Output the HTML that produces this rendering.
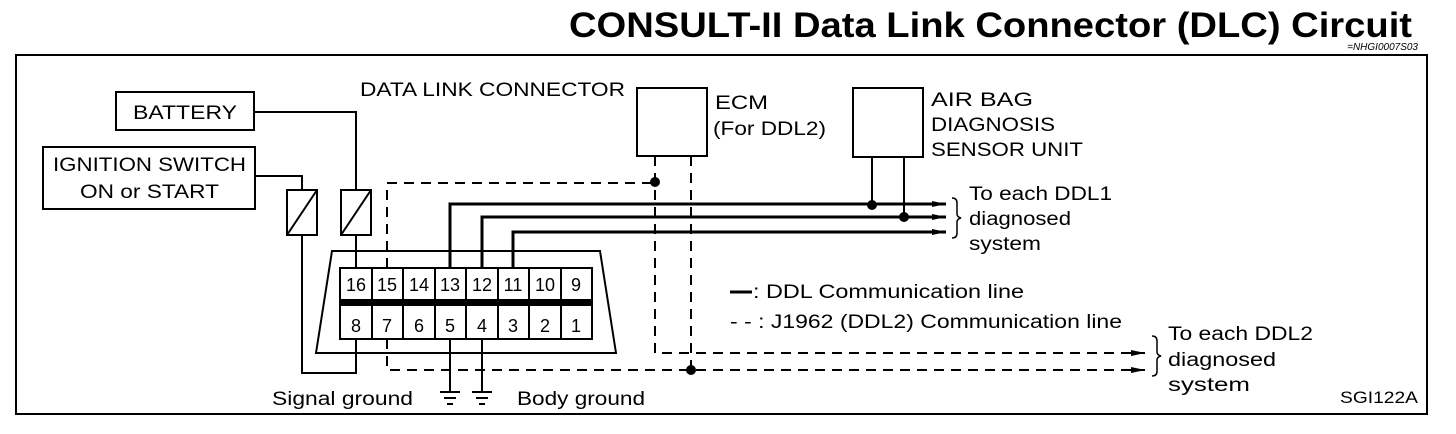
<!DOCTYPE html>
<html><head><meta charset="utf-8"><style>
html,body{margin:0;padding:0;background:#fff;}
svg{display:block;}
text{font-family:"Liberation Sans",Arial,sans-serif;fill:#000;}
</style></head><body>
<svg width="1456" height="434" viewBox="0 0 1456 434" xmlns="http://www.w3.org/2000/svg">
<defs>
<marker id="ar" markerWidth="14" markerHeight="8" refX="14" refY="4" orient="auto" markerUnits="userSpaceOnUse">
<path d="M0,1 L14,4 L0,7 Z" fill="#000"/></marker>
</defs>
<text x="1412" y="37" font-size="35" font-weight="bold" text-anchor="end" textLength="843" lengthAdjust="spacingAndGlyphs">CONSULT-II Data Link Connector (DLC) Circuit</text>
<text x="1418" y="50" font-size="10" font-style="italic" text-anchor="end">=NHGI0007S03</text>
<rect x="16" y="55" width="1411" height="359" fill="none" stroke="#000" stroke-width="2"/>

<g font-size="19">
<text x="133" y="119" textLength="104" lengthAdjust="spacingAndGlyphs">BATTERY</text>
<text x="53" y="171" textLength="193" lengthAdjust="spacingAndGlyphs">IGNITION SWITCH</text>
<text x="80" y="198" textLength="139" lengthAdjust="spacingAndGlyphs">ON or START</text>
<text x="360" y="96" textLength="265" lengthAdjust="spacingAndGlyphs">DATA LINK CONNECTOR</text>
<text x="715" y="109" textLength="53" lengthAdjust="spacingAndGlyphs">ECM</text>
<text x="713" y="135" textLength="113" lengthAdjust="spacingAndGlyphs">(For DDL2)</text>
<text x="931" y="106" textLength="102" lengthAdjust="spacingAndGlyphs">AIR BAG</text>
<text x="931" y="131" textLength="124" lengthAdjust="spacingAndGlyphs">DIAGNOSIS</text>
<text x="931" y="156" textLength="152" lengthAdjust="spacingAndGlyphs">SENSOR UNIT</text>
<text x="969" y="200" textLength="143" lengthAdjust="spacingAndGlyphs">To each DDL1</text>
<text x="969" y="225" textLength="102" lengthAdjust="spacingAndGlyphs">diagnosed</text>
<text x="969" y="250" textLength="72" lengthAdjust="spacingAndGlyphs">system</text>
<text x="1168" y="340" textLength="145" lengthAdjust="spacingAndGlyphs">To each DDL2</text>
<text x="1168" y="366" textLength="108" lengthAdjust="spacingAndGlyphs">diagnosed</text>
<text x="1168" y="391" textLength="82" lengthAdjust="spacingAndGlyphs">system</text>
<text x="753" y="298" textLength="271" lengthAdjust="spacingAndGlyphs">: DDL Communication line</text>
<text x="730" y="328" textLength="392" lengthAdjust="spacingAndGlyphs">- - : J1962 (DDL2) Communication line</text>
<text x="272" y="405" textLength="141" lengthAdjust="spacingAndGlyphs">Signal ground</text>
<text x="517" y="405" textLength="128" lengthAdjust="spacingAndGlyphs">Body ground</text>
<text x="1340" y="403" textLength="78" lengthAdjust="spacingAndGlyphs" font-size="17">SGI122A</text>
</g>

<rect x="116" y="92" width="138" height="38" fill="none" stroke="#000" stroke-width="2"/>
<rect x="43" y="147" width="212" height="62" fill="none" stroke="#000" stroke-width="2"/>
<rect x="637" y="88" width="70" height="68" fill="none" stroke="#000" stroke-width="2"/>
<rect x="853" y="88" width="70" height="69" fill="none" stroke="#000" stroke-width="2"/>

<g fill="none" stroke="#000" stroke-width="2">
<polyline points="254,112 356,112 356,190"/>
<polyline points="255,176 302,176 302,190"/>
<rect x="287" y="190" width="30" height="45"/>
<line x1="287" y1="235" x2="317" y2="190"/>
<rect x="341" y="190" width="30" height="45"/>
<line x1="341" y1="235" x2="371" y2="190"/>
<line x1="356" y1="235" x2="356" y2="268"/>
<polyline points="302,235 302,373 356,373 356,339"/>
<polygon points="332,251 600,251 616,353 316,353"/>
<rect x="340" y="268" width="252" height="71"/>
</g>
<rect x="340" y="299" width="252" height="7" fill="#000"/>
<g stroke="#000" stroke-width="2">
<line x1="372" y1="268" x2="372" y2="339"/><line x1="403" y1="268" x2="403" y2="339"/>
<line x1="435" y1="268" x2="435" y2="339"/><line x1="466" y1="268" x2="466" y2="339"/>
<line x1="498" y1="268" x2="498" y2="339"/><line x1="529" y1="268" x2="529" y2="339"/>
<line x1="561" y1="268" x2="561" y2="339"/>
</g>
<g font-size="18" text-anchor="middle">
<text x="356" y="291">16</text><text x="387" y="291">15</text><text x="419" y="291">14</text><text x="450" y="291">13</text>
<text x="482" y="291">12</text><text x="513" y="291">11</text><text x="545" y="291">10</text><text x="576" y="291">9</text>
<text x="356" y="332">8</text><text x="387" y="332">7</text><text x="419" y="332">6</text><text x="450" y="332">5</text>
<text x="482" y="332">4</text><text x="513" y="332">3</text><text x="545" y="332">2</text><text x="576" y="332">1</text>
</g>

<g fill="none" stroke="#000" stroke-width="3">
<polyline points="450,268 450,204 946,204" marker-end="url(#ar)"/>
<polyline points="482,268 482,217 946,217" marker-end="url(#ar)"/>
<polyline points="513,268 513,232 946,232" marker-end="url(#ar)"/>
</g>
<g stroke="#000" stroke-width="2">
<line x1="872" y1="157" x2="872" y2="205"/><line x1="904" y1="157" x2="904" y2="217"/>
</g>
<circle cx="872" cy="205" r="5"/><circle cx="904" cy="217" r="5"/>
<path d="M952,198 q5,0 5,5 v11 q0,3 4,4 q-4,1 -4,4 v11 q0,5 -5,5" fill="none" stroke="#000" stroke-width="1.5"/>

<g fill="none" stroke="#000" stroke-width="2" stroke-dasharray="10,7">
<polyline points="387,268 387,183 655,183"/>
<polyline points="387,339 387,370 1145,370" marker-end="url(#ar)"/>
<polyline points="655,156 655,353 1145,353" marker-end="url(#ar)"/>
<line x1="691" y1="156" x2="691" y2="370"/>
</g>
<circle cx="655" cy="182" r="5"/><circle cx="691" cy="370" r="5"/>
<path d="M1152,336 q5,0 5,5 v11 q0,3 4,4 q-4,1 -4,4 v11 q0,5 -5,5" fill="none" stroke="#000" stroke-width="1.5"/>

<line x1="730" y1="292" x2="752" y2="292" stroke="#000" stroke-width="3"/>

<g stroke="#000" stroke-width="2">
<line x1="450" y1="339" x2="450" y2="392"/><line x1="482" y1="339" x2="482" y2="392"/>
<line x1="440" y1="392" x2="460" y2="392"/><line x1="444" y1="398" x2="456" y2="398"/><line x1="447" y1="404" x2="453" y2="404"/>
<line x1="472" y1="392" x2="492" y2="392"/><line x1="476" y1="398" x2="488" y2="398"/><line x1="479" y1="404" x2="485" y2="404"/>
</g>
</svg>
</body></html>
